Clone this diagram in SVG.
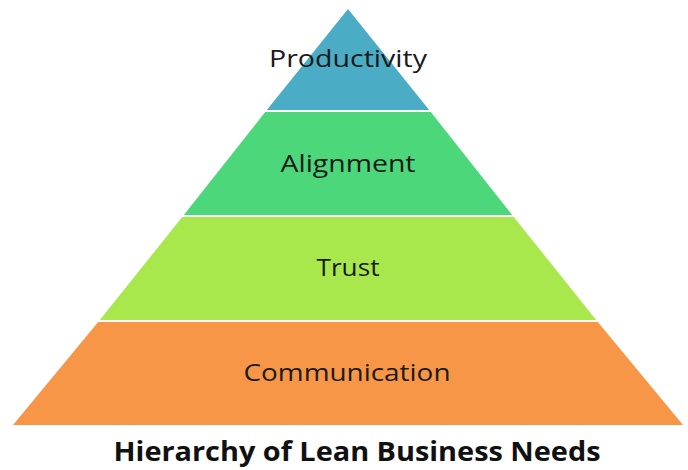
<svg xmlns="http://www.w3.org/2000/svg" width="688" height="470" viewBox="0 0 688 470">
<style>
.lbl{font-family:"Open Sans","Noto Sans",sans-serif;font-size:24px;fill:#1a1a1a;text-anchor:middle}
.ttl{font-family:"Open Sans","Noto Sans",sans-serif;font-size:26px;font-weight:bold;fill:#111;text-anchor:middle}
.sep{stroke:#ffffff;stroke-width:2}
</style>
<rect width="688" height="470" fill="#ffffff"/>
<g id="productivity">
<polygon points="348,9 430,111 266,111" fill="#4BACC6"/>
<text class="lbl" x="348" y="67" textLength="158" lengthAdjust="spacingAndGlyphs">Productivity</text>
</g>
<g id="alignment">
<polygon points="266,111 430,111 513,216 183,216" fill="#4CD77A"/>
<text class="lbl" x="348" y="172" textLength="135" lengthAdjust="spacingAndGlyphs">Alignment</text>
</g>
<g id="trust">
<polygon points="183,216 513,216 597,321 99,321" fill="#A9E84C"/>
<text class="lbl" x="348" y="276" textLength="63" lengthAdjust="spacingAndGlyphs">Trust</text>
</g>
<g id="communication">
<polygon points="99,321 597,321 683,425 13,425" fill="#F79646"/>
<text class="lbl" x="347" y="381" textLength="207" lengthAdjust="spacingAndGlyphs">Communication</text>
</g>
<g id="connectors">
<line class="sep" x1="250" y1="111" x2="446" y2="111"/>
<line class="sep" x1="170" y1="216" x2="526" y2="216"/>
<line class="sep" x1="85" y1="321" x2="611" y2="321"/>
</g>
<text class="ttl" x="357" y="461" textLength="487" lengthAdjust="spacingAndGlyphs">Hierarchy of Lean Business Needs</text>
</svg>
